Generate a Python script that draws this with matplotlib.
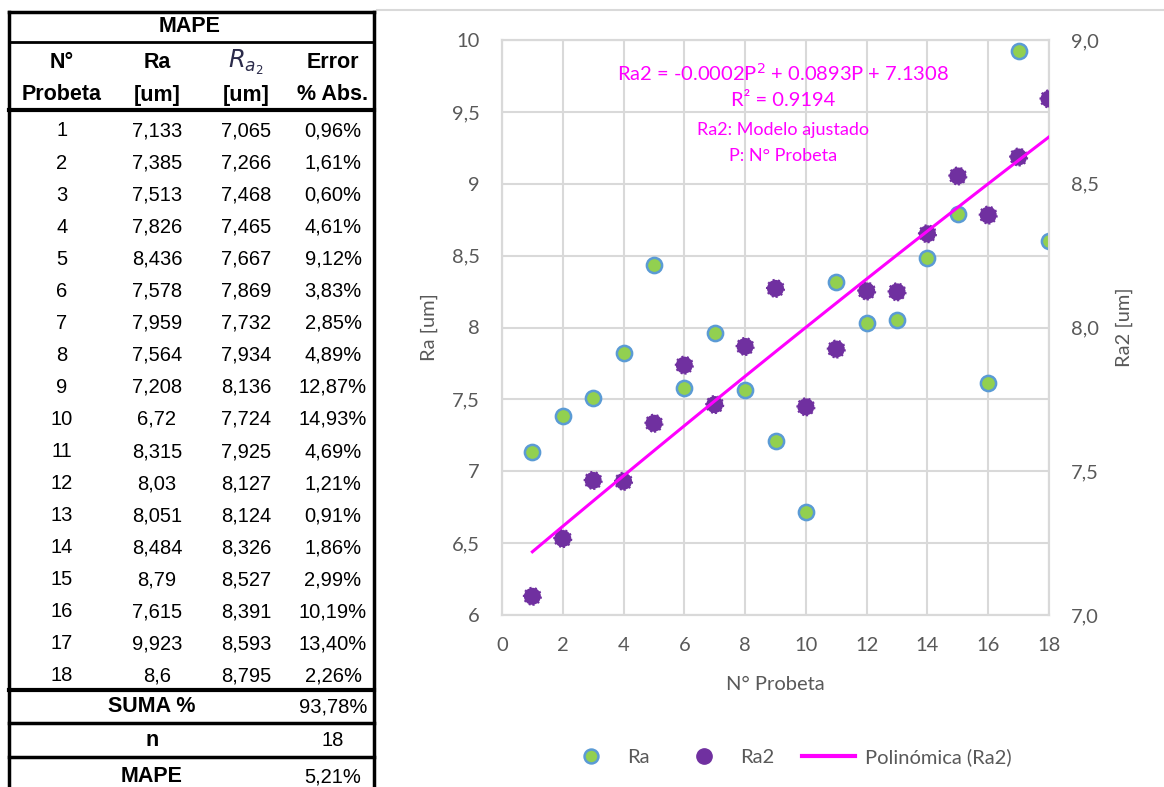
import numpy as np
import matplotlib.pyplot as plt
from matplotlib.lines import Line2D

# datos de la tabla
probeta = list(range(1, 19))
ra = [7.133, 7.385, 7.513, 7.826, 8.436, 7.578, 7.959, 7.564, 7.208,
      6.72, 8.315, 8.03, 8.051, 8.484, 8.79, 7.615, 9.923, 8.6]
ra2 = [7.065, 7.266, 7.468, 7.465, 7.667, 7.869, 7.732, 7.934, 8.136,
       7.724, 7.925, 8.127, 8.124, 8.326, 8.527, 8.391, 8.593, 8.795]
ra_txt = ["7,133", "7,385", "7,513", "7,826", "8,436", "7,578", "7,959", "7,564", "7,208",
          "6,72", "8,315", "8,03", "8,051", "8,484", "8,79", "7,615", "9,923", "8,6"]
ra2_txt = ["7,065", "7,266", "7,468", "7,465", "7,667", "7,869", "7,732", "7,934", "8,136",
           "7,724", "7,925", "8,127", "8,124", "8,326", "8,527", "8,391", "8,593", "8,795"]
error_txt = ["0,96%", "1,61%", "0,60%", "4,61%", "9,12%", "3,83%", "2,85%", "4,89%", "12,87%",
             "14,93%", "4,69%", "1,21%", "0,91%", "1,86%", "2,99%", "10,19%", "13,40%", "2,26%"]
resumen = [("SUMA %", "93,78%"), ("n", "18"), ("MAPE", "5,21%")]

W, H = 1164, 787
fig = plt.figure(figsize=(W / 100, H / 100), dpi=100)

gris = "#595959"
rejilla = "#D9D9D9"
fuente = ["Lato", "DejaVu Sans"]
fc = 14.5  # letra del grafico

# ---- tabla (coordenadas en pixeles) ----
bg = fig.add_axes([0, 0, 1, 1], zorder=0)
bg.set_xlim(0, W)
bg.set_ylim(H, 0)
bg.axis("off")

tf = "Liberation Sans"
fs = 14.5
fh = 15.5
xl, xr = 9, 374
bg.plot([377, W], [10, 10], color=rejilla, lw=1.5)
bg.plot([xl, xl], [12, H], color="black", lw=2.5)
bg.plot([xr, xr], [12, H], color="black", lw=2.5)
for y, lw in [(12, 2.5), (42, 2), (110, 3), (690, 3), (723, 2.5), (757, 2.5)]:
    bg.plot([xl, xr], [y, y], color="black", lw=lw)

cols = [62, 157, 246, 333]
bg.text(190, 27, "MAPE", ha="center", va="center", fontsize=fh, fontweight="bold", family=tf)
hdr1 = ["N°", "Ra", None, "Error"]
hdr2 = ["Probeta", "[um]", "[um]", "% Abs."]
for x, a, b in zip(cols, hdr1, hdr2):
    if a is not None:
        bg.text(x, 63, a, ha="center", va="center", fontsize=fh, fontweight="bold", family=tf)
    bg.text(x, 95, b, ha="center", va="center", fontsize=fh, fontweight="bold", family=tf)
bg.text(cols[2], 62, r"$R_{a_2}$", ha="center", va="center", fontsize=fh + 2, color="#2B2B4A")

for i in range(len(probeta)):
    y = 131 + i * 32.05
    vals = [str(probeta[i]), ra_txt[i], ra2_txt[i], error_txt[i]]
    for x, v in zip(cols, vals):
        bg.text(x, y, v, ha="center", va="center", fontsize=fs, family=tf)

for (lab, val), y in zip(resumen, [707, 741, 777]):
    bg.text(152, y, lab, ha="center", va="center", fontsize=fh, fontweight="bold", family=tf)
    bg.text(333, y, val, ha="center", va="center", fontsize=fs, family=tf)

# ---- grafico ----
ax = fig.add_axes([502 / W, 1 - 615 / H, 547 / W, 575 / H], zorder=1)
ax.patch.set_alpha(0)
ax2 = ax.twinx()

ax.set_xlim(0, 18)
ax.set_ylim(6, 10)
ax2.set_ylim(7, 9)
ax.set_xticks(range(0, 19, 2))
yt = np.arange(6, 10.01, 0.5)
ax.set_yticks(yt)
ax.set_yticklabels([f"{v:g}".replace(".", ",") for v in yt])
yt2 = np.arange(7, 9.01, 0.5)
ax2.set_yticks(yt2)
ax2.set_yticklabels([f"{v:.1f}".replace(".", ",") for v in yt2])

ax.grid(True, color=rejilla, lw=1.5)
ax.set_axisbelow(True)
for a in (ax, ax2):
    for s in a.spines.values():
        s.set_color(rejilla)
        s.set_linewidth(1.5)
    a.tick_params(length=0, labelsize=fc, labelcolor=gris)
    for t in a.get_xticklabels() + a.get_yticklabels():
        t.set_family(fuente)
ax.tick_params(axis="y", pad=16)
ax.tick_params(axis="x", pad=16)
ax2.tick_params(axis="y", pad=16)

ax.set_xlabel("N° Probeta", fontsize=fc, color=gris, family=fuente, labelpad=16)
ax.set_ylabel("Ra [um]", fontsize=fc, color=gris, family=fuente, labelpad=10)
ax2.set_ylabel("Ra2 [um]", fontsize=fc, color=gris, family=fuente, labelpad=12)

ax.scatter(probeta, ra, s=120, color="#92D050", edgecolor="#5B9BD5", linewidth=1.8, zorder=3)
ax2.scatter(probeta, ra2, s=150, color="#7030A0", edgecolor="#7030A0", linewidth=1.5,
            linestyle=":", marker="o", zorder=3)

# linea de tendencia polinomica (grado 2)
coef = np.polyfit(probeta, ra2, 2)
px = np.linspace(1, 18, 100)
ax2.plot(px, np.polyval(coef, px), color="#FF00FF", lw=2.2, zorder=4)

mag = "#FF00FF"
ax.text(783, 73, "Ra2 = -0.0002P$^2$ + 0.0893P + 7.1308", transform=bg.transData,
        ha="center", va="center", fontsize=14.5, color=mag, family=fuente)
ax.text(783, 101, "R² = 0.9194", transform=bg.transData,
        ha="center", va="center", fontsize=14.5, color=mag, family=fuente)
ax.text(783, 130, "Ra2: Modelo ajustado", transform=bg.transData,
        ha="center", va="center", fontsize=13, color=mag, family=fuente)
ax.text(783, 156, "P: N° Probeta", transform=bg.transData,
        ha="center", va="center", fontsize=13, color=mag, family=fuente)

h1 = Line2D([], [], ls="none", marker="o", ms=10, mfc="#92D050", mec="#5B9BD5", mew=1.8)
h2 = Line2D([], [], ls="none", marker="o", ms=11, mfc="#7030A0", mec="#7030A0")
h3 = Line2D([], [], color="#FF00FF", lw=3)
leg = fig.legend([h1, h2, h3], ["Ra", "Ra2", "Polinómica (Ra2)"], ncol=3,
                 loc="center", bbox_to_anchor=(788 / W, 1 - 757 / H), frameon=False,
                 prop={"family": fuente, "size": fc}, handlelength=2.6,
                 columnspacing=1.4, handletextpad=0.5)
for t in leg.get_texts():
    t.set_color(gris)

fig.savefig("out.png", dpi=100)
